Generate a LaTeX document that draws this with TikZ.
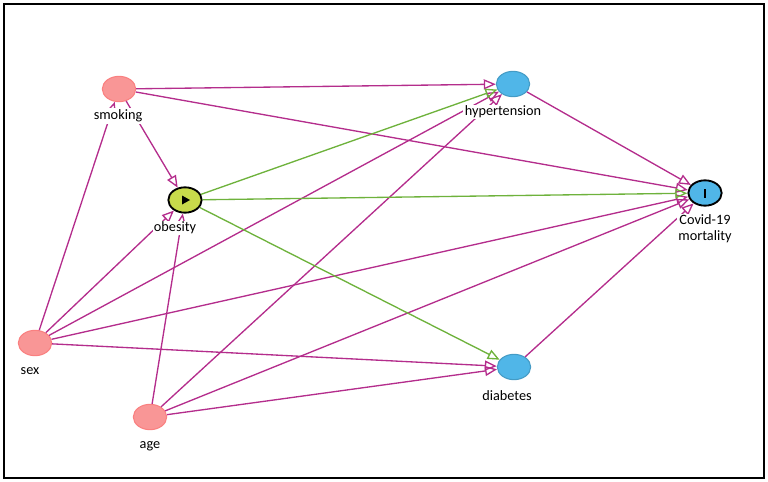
\documentclass[tikz,border=0pt]{standalone}
\usepackage{fontspec}
\setmainfont{Carlito}
\usetikzlibrary{shapes.geometric,arrows.meta,positioning}
\definecolor{edgered}{RGB}{180,45,140}
\definecolor{edgegreen}{RGB}{110,178,60}
\definecolor{nodered}{RGB}{249,150,150}
\definecolor{nodeblue}{RGB}{80,182,232}
\definecolor{nodeyellow}{RGB}{200,218,75}
\tikzstyle{point}=[ellipse, minimum width=25pt, minimum height=19pt, inner sep=0pt]
\tikzstyle{pointred}=[point, fill=nodered, draw=nodered!85!red, thick]
\tikzstyle{pointblue}=[point, fill=nodeblue, draw=nodeblue!85!black, thick]
\tikzstyle{pointexp}=[point, fill=nodeyellow, draw=black, line width=1.4pt]
\tikzstyle{pointout}=[point, fill=nodeblue, draw=black, line width=1.4pt]
\tikzstyle{lbl}=[fill=white, inner sep=1pt, align=center, font=\fontsize{10.7}{12}\selectfont]
\tikzstyle{causal}=[draw=edgered, line width=1pt, -{Triangle[open, length=9pt, width=7.5pt]}]
\tikzstyle{causalg}=[causal, draw=edgegreen]

\begin{document}
\begin{tikzpicture}[x=0.75pt, y=-0.75pt]
		   \useasboundingbox (0,0) rectangle (768,482);
		   \draw[line width=1.5pt] (4,4) rectangle (764,478);
		   \begin{scope}
			   \node (smoking) at (119, 89)[pointred] {};
			   \node (hyper) at (513, 84)[pointblue] {};
			   \node (obesity) at (185, 200)[pointexp] {};
			   \node (covid) at (705, 193)[pointout] {};
			   \node (sex) at (35, 343)[pointred] {};
			   \node (age) at (150, 417)[pointred] {};
			   \node (diabetes) at (514, 367)[pointblue] {};
		   \end{scope}
		   \fill (obesity.center) ++(-3,-4.5) -- ++(8,4.5) -- ++(-8,4.5) -- cycle;
		   \fill ([shift={(-1.3,-4.5)}]covid.center) rectangle ++(2.6,9);
		   \begin{scope}
			   \path [causal] (smoking) edge (hyper);
			   \path [causal] (smoking) edge (covid);
			   \path [causal] (smoking) edge (obesity);
			   \path [causal] (sex) edge (smoking);
			   \path [causal] (sex) edge (obesity);
			   \path [causal] (sex) edge (hyper);
			   \path [causal] (sex) edge (covid);
			   \path [causal] (sex) edge (diabetes);
			   \path [causal] (age) edge (obesity);
			   \path [causal] (age) edge (hyper);
			   \path [causal] (age) edge (covid);
			   \path [causal] (age) edge (diabetes);
			   \path [causalg] (obesity) edge (hyper);
			   \path [causalg] (obesity) edge (covid);
			   \path [causalg] (obesity) edge (diabetes);
			   \path [causal] (hyper) edge (covid);
			   \path [causal] (diabetes) edge (covid);
		   \end{scope}
		   \begin{scope}
			   \node (smokingl) at (118, 116)[lbl] {smoking};
			   \node (hyperl) at (503, 112)[lbl] {hypertension};
			   \node (obesityl) at (175, 228)[lbl] {obesity};
			   \node (covidl) at (705, 229)[lbl] {Covid-19\\mortality};
			   \node (sexl) at (30, 371)[lbl] {sex};
			   \node (agel) at (150, 446)[lbl] {age};
			   \node (diabetesl) at (507, 396)[lbl] {diabetes};
		   \end{scope}
	   \end{tikzpicture}
\end{document}
